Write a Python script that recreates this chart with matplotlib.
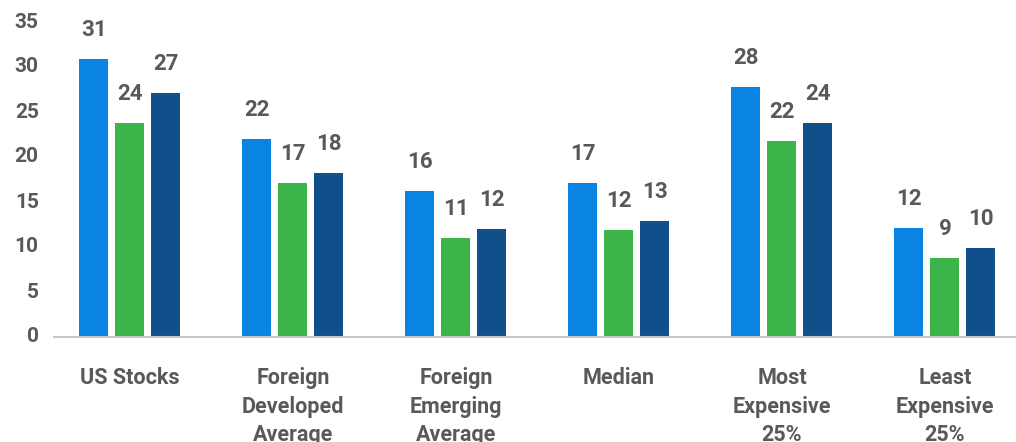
import numpy as np
import matplotlib
matplotlib.use("Agg")
import matplotlib.pyplot as plt
import matplotlib.transforms as mtransforms

plt.rcParams['font.family'] = ['Roboto', 'DejaVu Sans']

# data
categories = ["US Stocks", "Foreign\nDeveloped\nAverage", "Foreign\nEmerging\nAverage",
              "Median", "Most\nExpensive\n25%", "Least\nExpensive\n25%"]
series_a = [30.9, 22.0, 16.2, 17.1, 27.8, 12.1]
series_b = [23.8, 17.1, 11.0, 11.9, 21.8, 8.8]
series_c = [27.1, 18.2, 12.0, 12.9, 23.8, 9.9]
colors = ["#0984e3", "#3bb54a", "#0f4f8a"]
yticks = [0, 5, 10, 15, 20, 25, 30, 35]

txt = "#595959"
wt = 'semibold'

fig = plt.figure(figsize=(10.16, 4.42), dpi=100, facecolor='white')
ax = fig.add_axes([54/1016, 105/442, 962/1016, 315/442])

x = np.arange(len(categories))
w = 0.178
off = 0.221
for vals, dx, c in zip([series_a, series_b, series_c], [-off, 0, off], colors):
    bars = ax.bar(x + dx, vals, width=w, color=c, zorder=2)
    for b, v in zip(bars, vals):
        ax.annotate("%d" % round(v), (b.get_x() + b.get_width()/2, v),
                    xytext=(0, 12.8), textcoords='offset points',
                    ha='center', va='bottom', fontsize=16, color=txt, fontweight=wt)

ax.set_xlim(-0.466, 5.436)
ax.set_ylim(0, 35)
ax.set_yticks(yticks)
ax.set_xticks(x)
ax.set_xticklabels(categories, fontsize=15.5, color=txt, linespacing=1.4,
                   va='top', fontweight=wt)
ax.tick_params(axis='x', length=0, pad=21.5)
ax.tick_params(axis='y', length=0, pad=11, labelsize=15, labelcolor=txt)
shift = mtransforms.ScaledTranslation(0, 2/100, fig.dpi_scale_trans)
for lab in ax.get_yticklabels():
    lab.set_fontweight(wt)
    lab.set_transform(lab.get_transform() + shift)

for s in ['top', 'right', 'left']:
    ax.spines[s].set_visible(False)
ax.spines['bottom'].set_color('#c8c8c8')
ax.spines['bottom'].set_linewidth(1.5)

fig.savefig("out.png", dpi=100, facecolor='white')
